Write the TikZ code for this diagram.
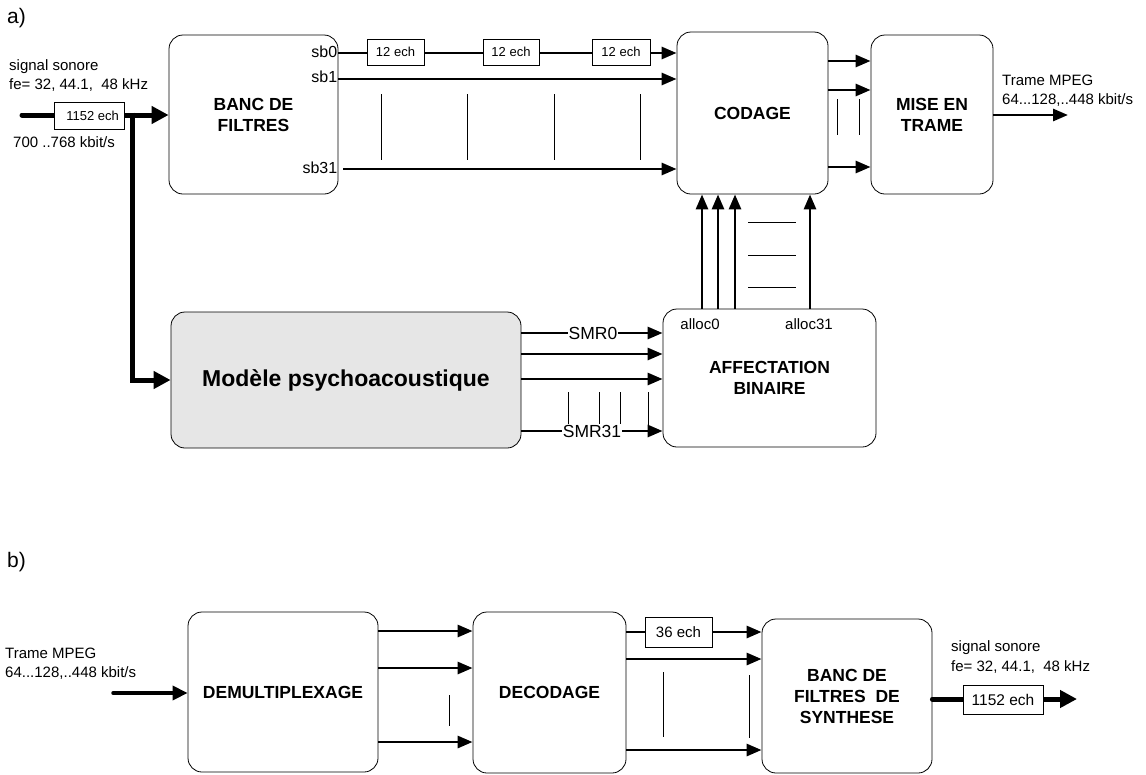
\documentclass[tikz,border=0pt]{standalone}
\usepackage{fontspec}
\setmainfont{Liberation Sans}
\usetikzlibrary{arrows.meta}
\definecolor{psyfill}{RGB}{230,230,230}
\begin{document}
\begin{tikzpicture}[x=1pt,y=-1pt,
  blk/.style={draw, line width=0.8pt, rounded corners=14pt, align=center,
    font=\bfseries\fontsize{17.5}{21}\selectfont, inner sep=0pt},
  lbl/.style={font=\fontsize{15}{19}\selectfont, inner sep=0pt, anchor=west},
  ech/.style={draw, fill=white, line width=0.8pt, inner sep=0pt},
  arr/.style={line width=2.8pt, -{Triangle[length=15pt,width=12pt]}},
  big/.style={line width=5pt, -{Triangle[length=17pt,width=17pt]}},
  tk/.style={line width=0.7pt},
]
\useasboundingbox (0,0) rectangle (1146,774);

% ---------- a) ----------
\node[font=\fontsize{21}{24}\selectfont, anchor=west, inner sep=0pt] (la) at (7,18) {a)};

\node[blk, minimum width=169pt, minimum height=159pt] (banc) at (253.5,114.5) {BANC DE\\FILTRES};
\node[blk, minimum width=151pt, minimum height=162pt] (codage) at (752.5,113) {CODAGE};
\node[blk, minimum width=122pt, minimum height=159pt] (mise) at (932,114.5) {MISE EN\\TRAME};
\node[blk, minimum width=213pt, minimum height=138pt] (affect) at (769.5,378) {AFFECTATION\\BINAIRE};
\node[blk, fill=psyfill, minimum width=350pt, minimum height=136pt,
  font=\bfseries\fontsize{23}{26}\selectfont] (psych) at (346,380) {Modèle psychoacoustique};

% input
\node[lbl] (ss1) at (9,67) {signal sonore};
\node[lbl] (ss2) at (9,85) {fe= 32, 44.1,\ \ 48 kHz};
\node[lbl] (rate) at (13,142) {700 ..768 kbit/s};
\coordinate (in) at (22,115);
\coordinate (j) at (132,112.5);
\draw[big, line cap=round] (in) -- (in -| banc.west);
\draw[big] (j) -- (j |- psych.west) -- (psych.west);
\node[ech, minimum width=70pt, minimum height=27pt, font=\fontsize{13}{15}\selectfont] (e0) at (89,115.5) {\ \ 1152 ech};

% sub-band lines
\draw[arr] (banc.east |- 0,53) -- (codage.west |- 0,53);
\draw[arr] (banc.east |- 0,79) -- (codage.west |- 0,79);
\draw[arr, shorten <=5pt] (banc.east |- 0,169) -- (codage.west |- 0,169);
\node[ech, minimum width=57pt, minimum height=26pt, font=\fontsize{13}{15}\selectfont] (e1) at (395.5,52) {12 ech};
\node[ech, minimum width=56pt, minimum height=26pt, font=\fontsize{13}{15}\selectfont] (e2) at (511,52) {12 ech};
\node[ech, minimum width=58pt, minimum height=26pt, font=\fontsize{13}{15}\selectfont] (e3) at (621,52) {12 ech};
\node[font=\fontsize{16}{18}\selectfont, anchor=east, inner sep=1pt] (sb0) at (banc.east |- 0,52) {sb0};
\node[font=\fontsize{16}{18}\selectfont, anchor=east, inner sep=1pt] (sb1) at (banc.east |- 0,77) {sb1};
\node[font=\fontsize{16}{18}\selectfont, anchor=east, inner sep=1pt] (sb31) at (banc.east |- 0,168) {sb31};
\foreach \x in {381,467,554,640} \draw[tk] (\x,94) -- (\x,160);

% codage -> mise en trame
\foreach \y in {61,90,167} \draw[arr] (codage.east |- 0,\y) -- (mise.west |- 0,\y);
\draw[tk] (837,99) -- (837,135);
\draw[tk] (859,99) -- (859,135);
\coordinate (outA) at (1068,115);
\draw[arr] (mise.east |- outA) -- (outA);
\node[lbl] (tm1) at (1002,80) {Trame MPEG};
\node[lbl] (tm2) at (1002,100) {64...128,..448 kbit/s};

% allocation
\foreach \x in {702,718,735,810} \draw[arr] (affect.north -| \x,0) -- (codage.south -| \x,0);
\foreach \y in {222,255,287} \draw[tk] (748,\y) -- (796,\y);
\node[font=\fontsize{15}{18}\selectfont] (al0) at (700,324) {alloc0};
\node[font=\fontsize{15}{18}\selectfont] (al31) at (809,324) {alloc31};

% SMR
\foreach \y in {333,354,379,431} \draw[arr] (psych.east |- 0,\y) -- (affect.west |- 0,\y);
\foreach \x in {568,599,620,648} \draw[tk] (\x,392) -- (\x,425);
\node[fill=white, inner sep=0.5pt, font=\fontsize{17.5}{20}\selectfont] (smr0) at (593,333) {SMR0};
\node[fill=white, inner sep=0.5pt, font=\fontsize{17.5}{20}\selectfont] (smr31) at (592,431) {SMR31};

% ---------- b) ----------
\node[font=\fontsize{21}{24}\selectfont, anchor=west, inner sep=0pt] (lb) at (7,562) {b)};

\node[blk, minimum width=190pt, minimum height=160pt] (demux) at (283,692) {DEMULTIPLEXAGE};
\node[blk, minimum width=153pt, minimum height=161pt] (decod) at (549.5,692.5) {DECODAGE};
\node[blk, minimum width=170pt, minimum height=154pt] (synth) at (847,696) {BANC DE\\FILTRES\ \ DE\\SYNTHESE};

\node[lbl] (tb1) at (5,653) {Trame MPEG};
\node[lbl] (tb2) at (5,673) {64...128,..448 kbit/s};
\coordinate (inB) at (113,693);
\draw[line width=3.5pt, line cap=round, -{Triangle[length=15pt,width=14pt]}] (inB) -- (inB -| demux.west);

\foreach \y in {631,668,742} \draw[arr] (demux.east |- 0,\y) -- (decod.west |- 0,\y);
\draw[tk] (449,695) -- (449,726);

\foreach \y in {632,659,750} \draw[arr] (decod.east |- 0,\y) -- (synth.west |- 0,\y);
\node[ech, minimum width=67pt, minimum height=30pt, font=\fontsize{15}{17}\selectfont] (e36) at (678.5,632) {36 ech};
\draw[tk] (663,672) -- (663,737);
\draw[tk] (749,675) -- (749,738);

\coordinate (outB) at (1077,699);
\draw[big, line cap=round] (synth.east |- outB) -- (outB);
\node[ech, minimum width=80pt, minimum height=29pt, font=\fontsize{15.5}{17}\selectfont] (e1152b) at (1003,699.5) {1152 ech};
\node[lbl] (sb1t) at (951,648) {signal sonore};
\node[lbl] (sb2t) at (951,667) {fe= 32, 44.1,\ \ 48 kHz};

\end{tikzpicture}
\end{document}
